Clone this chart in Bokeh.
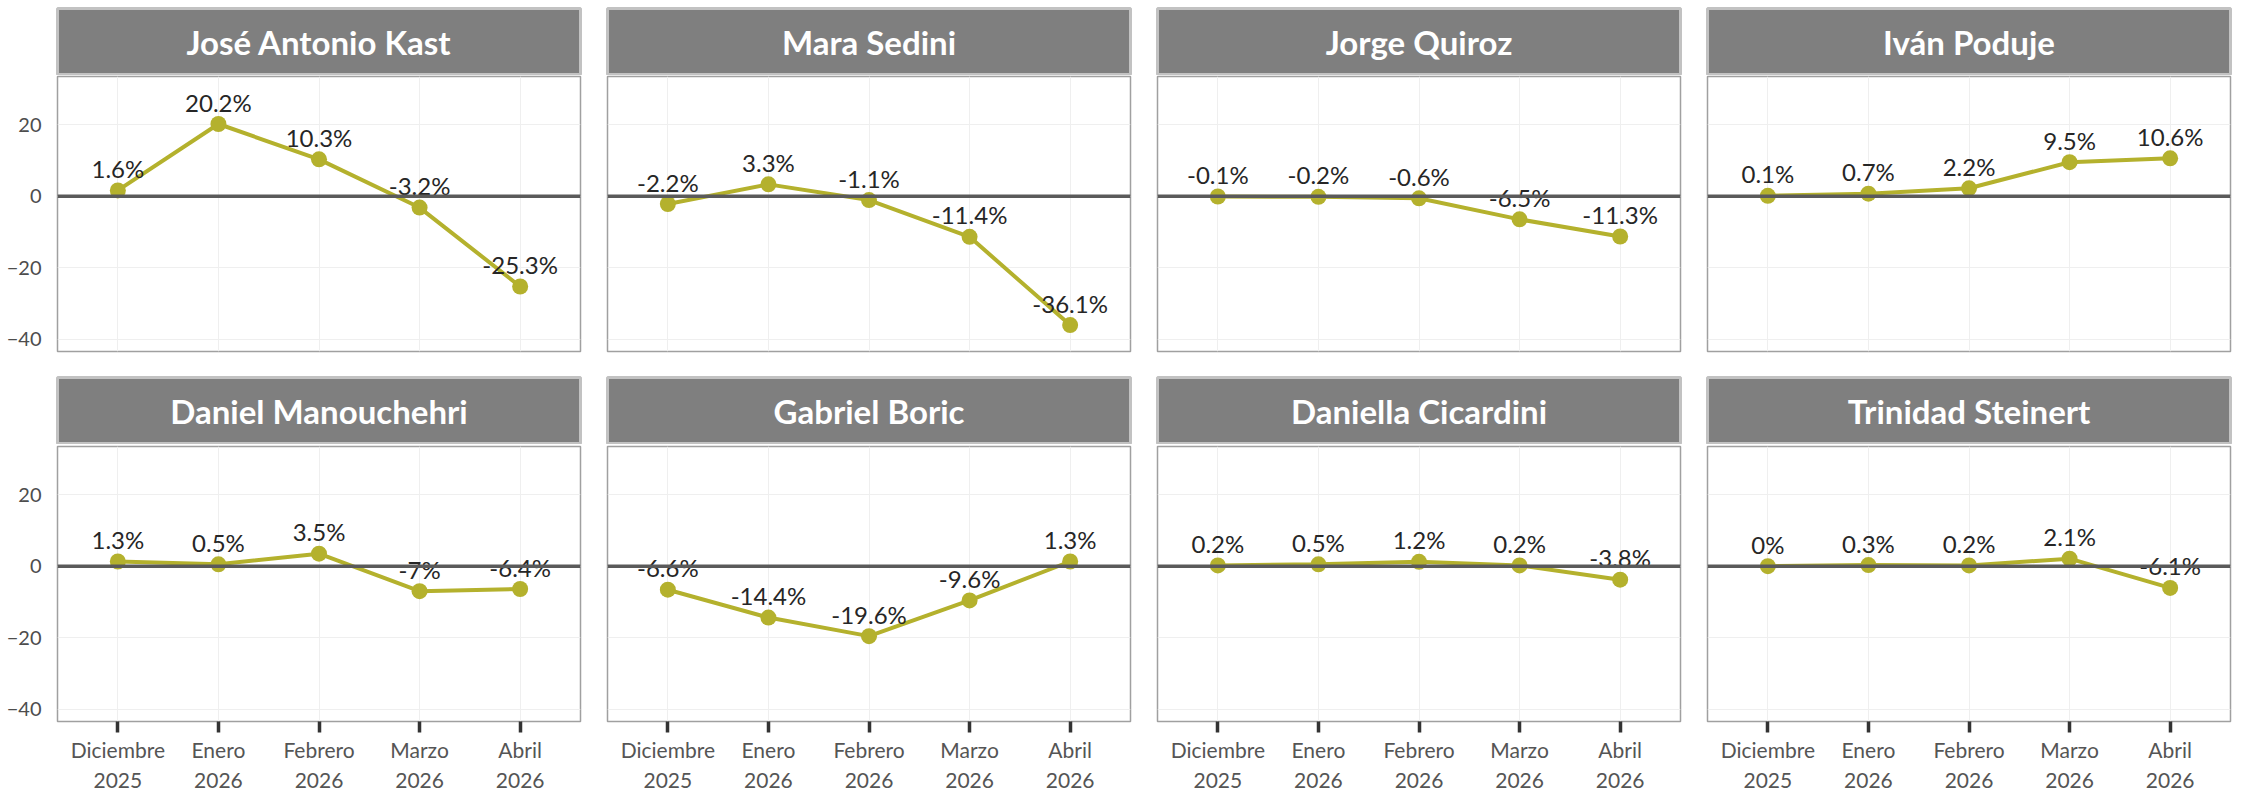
from bokeh.plotting import figure
from bokeh.models import Range1d, LinearAxis, FixedTicker, Grid, Span, ColumnDataSource
from bokeh.layouts import row, column
from bokeh.core.properties import value
from bokeh.embed import file_html
from bokeh.resources import INLINE

# ---------------- data ----------------
months = ["Diciembre\n2025", "Enero\n2026", "Febrero\n2026", "Marzo\n2026", "Abril\n2026"]
candidates = ["José Antonio Kast", "Mara Sedini", "Jorge Quiroz", "Iván Poduje",
              "Daniel Manouchehri", "Gabriel Boric", "Daniella Cicardini", "Trinidad Steinert"]

kast = [1.6, 20.2, 10.3, -3.2, -25.3]
sedini = [-2.2, 3.3, -1.1, -11.4, -36.1]
quiroz = [-0.1, -0.2, -0.6, -6.5, -11.3]
poduje = [0.1, 0.7, 2.2, 9.5, 10.6]
manouchehri = [1.3, 0.5, 3.5, -7, -6.4]
boric = [-6.6, -14.4, -19.6, -9.6, 1.3]
cicardini = [0.2, 0.5, 1.2, 0.2, -3.8]
steinert = [0, 0.3, 0.2, 2.1, -6.1]

series = [kast, sedini, quiroz, poduje, manouchehri, boric, cicardini, steinert]
y_ticks = [-40, -20, 0, 20]

# ---------------- style ----------------
OLIVE = "#B4B12D"
FRAME_W = 523
FRAME_H = 275
STRIP_H = 66
LABEL_FONT = value("Lato")

x_pos = list(range(1, len(months) + 1))


def strip_grids(fig):
    fig.center = [r for r in fig.center if not isinstance(r, Grid)]


def make_strip(name, left):
    s = figure(frame_width=FRAME_W, frame_height=STRIP_H,
               x_range=Range1d(0, 1), y_range=Range1d(0, 1),
               x_axis_location=None, y_axis_location=None,
               toolbar_location=None, output_backend="svg", min_border=0)
    strip_grids(s)
    s.min_border_left = left
    s.min_border_right = 2
    s.background_fill_color = "#7F7F7F"
    s.border_fill_color = "white"
    s.outline_line_color = "#C2C2C2"
    s.outline_line_width = 3
    s.text(x=[0.5], y=[0.5], text=[name], text_align="center", text_baseline="middle",
           text_font=value("Lato"), text_font_style="bold", text_font_size="33px",
           text_color="white")
    return s


def make_panel(vals, left_axis, bottom_axis, left):
    p = figure(frame_width=FRAME_W, frame_height=FRAME_H,
               x_range=Range1d(0.4, 5.6), y_range=Range1d(-43.5, 33.5),
               x_axis_location=None, y_axis_location=None,
               toolbar_location=None, output_backend="svg", min_border=0)
    strip_grids(p)
    p.min_border_left = left
    p.min_border_right = 2
    p.background_fill_color = "white"
    p.border_fill_color = "white"
    p.outline_line_color = "#A0A0A0"
    p.outline_line_width = 1.5

    p.add_layout(Grid(dimension=0, ticker=FixedTicker(ticks=x_pos),
                      grid_line_color="#EFEFEF", grid_line_width=1))
    p.add_layout(Grid(dimension=1, ticker=FixedTicker(ticks=y_ticks),
                      grid_line_color="#EFEFEF", grid_line_width=1))

    if left_axis:
        ya = LinearAxis(ticker=FixedTicker(ticks=y_ticks))
        ya.axis_line_color = None
        ya.major_tick_line_color = None
        ya.minor_tick_line_color = None
        ya.major_label_text_font = "Lato"
        ya.major_label_text_font_size = "20px"
        ya.major_label_text_color = "#4D4D4D"
        ya.major_label_standoff = 10
        p.add_layout(ya, "left")

    if bottom_axis:
        xa = LinearAxis(ticker=FixedTicker(ticks=x_pos),
                        major_label_overrides={x: m for x, m in zip(x_pos, months)})
        xa.axis_line_color = None
        xa.major_tick_in = 0
        xa.major_tick_out = 11
        xa.major_tick_line_width = 3.5
        xa.major_tick_line_color = "#333333"
        xa.minor_tick_line_color = None
        xa.major_label_text_font = "Lato"
        xa.major_label_text_font_size = "21px"
        xa.major_label_text_color = "#555555"
        xa.major_label_standoff = 4
        p.add_layout(xa, "below")

    src = ColumnDataSource(dict(x=x_pos, y=vals, label=[f"{v:g}%" for v in vals]))
    p.line("x", "y", source=src, line_color=OLIVE, line_width=4)
    p.scatter("x", "y", source=src, size=16, fill_color=OLIVE, line_color=None)
    p.text("x", "y", text="label", source=src, text_align="center",
           text_baseline="alphabetic", y_offset=-22, text_font=LABEL_FONT,
           text_font_size="24px", text_color="#262626")
    p.add_layout(Span(location=0, dimension="width", line_color="#5A5A5A", line_width=3.5))
    return p


cols = []
for c in range(4):
    left = 57 if c == 0 else 25
    top_i, bot_i = c, c + 4
    st = make_strip(candidates[top_i], left)
    st.min_border_top = 8
    st.min_border_bottom = 1
    pt = make_panel(series[top_i], c == 0, False, left)
    pt.min_border_top = 1
    pt.min_border_bottom = 2
    sb = make_strip(candidates[bot_i], left)
    sb.min_border_top = 24
    sb.min_border_bottom = 1
    pb = make_panel(series[bot_i], c == 0, True, left)
    pb.min_border_top = 2
    pb.min_border_bottom = 2
    cols.append(column(st, pt, sb, pb, spacing=0))

layout = row(*cols, spacing=0)

with open("out.html", "w") as f:
    f.write(file_html(layout, INLINE))
